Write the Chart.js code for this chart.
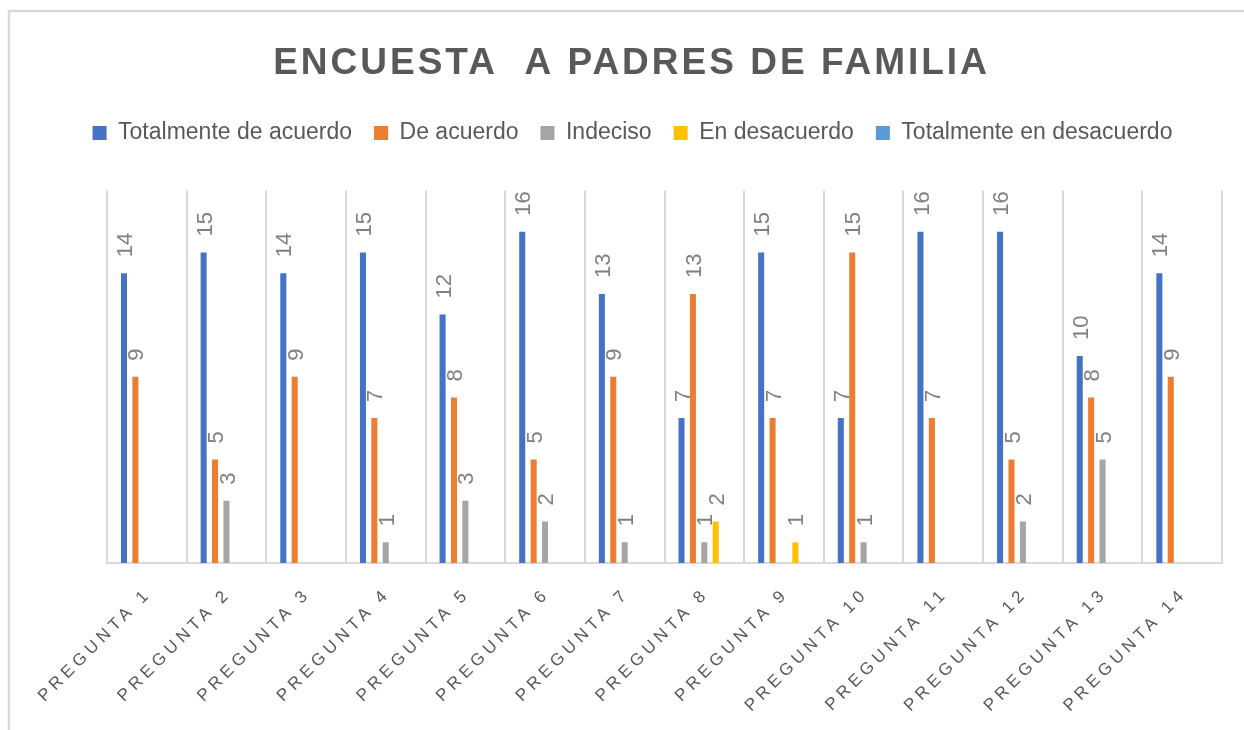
<!DOCTYPE html>
<html>
<head>
<meta charset="utf-8">
<script src="https://cdn.jsdelivr.net/npm/chart.js@4.4.0/dist/chart.umd.min.js"></script>
<style>
html, body { margin: 0; padding: 0; background: #ffffff; }
#wrap { position: relative; width: 1244px; height: 730px; }
</style>
</head>
<body>
<div id="wrap"><canvas id="c" width="1244" height="730"></canvas></div>
<script>
// ---- data ----
const categories = ['PREGUNTA 1','PREGUNTA 2','PREGUNTA 3','PREGUNTA 4','PREGUNTA 5','PREGUNTA 6','PREGUNTA 7',
  'PREGUNTA 8','PREGUNTA 9','PREGUNTA 10','PREGUNTA 11','PREGUNTA 12','PREGUNTA 13','PREGUNTA 14'];
const seriesNames = ['Totalmente de acuerdo','De acuerdo','Indeciso','En desacuerdo','Totalmente en desacuerdo'];
const totalmenteDeAcuerdo = [14,15,14,15,12,16,13,7,15,7,16,16,10,14];
const deAcuerdo = [9,5,9,7,8,5,9,13,7,15,7,5,8,9];
const indeciso = [null,3,null,1,3,2,1,1,null,1,null,2,5,null];
const enDesacuerdo = [null,null,null,null,null,null,null,2,1,null,null,null,null,null];
const totalmenteEnDesacuerdo = [null,null,null,null,null,null,null,null,null,null,null,null,null,null];
const titleText = 'ENCUESTA  A PADRES DE FAMILIA';
const yMin = 0;
const yMax = 18;

const seriesValues = [totalmenteDeAcuerdo, deAcuerdo, indeciso, enDesacuerdo, totalmenteEnDesacuerdo];
const seriesColors = ['#4472C4','#ED7D31','#A5A5A5','#FFC000','#5B9BD5'];

const LEGEND_GAP = 36;
const LEGEND_EXTRA = 80;
const HEADER_SHIFT_TITLE = -33;
const HEADER_SHIFT_LEGEND = -72;

const decorPlugin = {
  id: 'decor',
  afterInit(chart) {
    const lg = chart.legend;
    if (lg && !lg._wrapped) {
      const f = lg.fit;
      lg.fit = function () {
        const mw = this.maxWidth;
        this.maxWidth = mw + LEGEND_EXTRA;
        f.call(this);
        this.maxWidth = mw;
        this.width = Math.min(this.width, mw);
        if (this.height) this.height += LEGEND_GAP;
      };
      const d = lg.draw;
      lg.draw = function () {
        const ctx = this.ctx;
        const r = this.right;
        this.right = r + LEGEND_EXTRA;
        ctx.save();
        ctx.translate(HEADER_SHIFT_LEGEND, 0);
        d.call(this);
        ctx.restore();
        this.right = r;
      };
      lg._wrapped = true;
    }
    const tb = chart.titleBlock;
    if (tb && !tb._wrapped) {
      const d = tb.draw;
      tb.draw = function () {
        const ctx = this.ctx;
        ctx.save();
        ctx.translate(HEADER_SHIFT_TITLE, 0);
        ctx.letterSpacing = '3px';
        d.call(this);
        ctx.restore();
      };
      tb._wrapped = true;
    }
  },
  afterLayout(chart) {
    const sx = chart.scales.x;
    if (sx && !sx._lsWrapped) {
      const dl = sx.drawLabels;
      sx._computeLabelArea = function () { return undefined; };
      sx.drawLabels = function (area) {
        const ctx = this.ctx;
        ctx.save();
        ctx.letterSpacing = '4.5px';
        dl.call(this, area);
        ctx.restore();
      };
      sx._lsWrapped = true;
    }
  },
  beforeDraw(chart) {
    const ctx = chart.ctx;
    ctx.save();
    ctx.strokeStyle = '#d9d9d9';
    ctx.lineWidth = 2.5;
    ctx.beginPath();
    ctx.moveTo(9, 730);
    ctx.lineTo(9, 11);
    ctx.lineTo(1244, 11);
    ctx.stroke();
    ctx.restore();
  },
  afterDatasetsDraw(chart) {
    const ctx = chart.ctx;
    ctx.save();
    ctx.font = '22px "Liberation Sans", Arial, sans-serif';
    ctx.fillStyle = '#808080';
    ctx.textAlign = 'left';
    ctx.textBaseline = 'middle';
    chart.data.datasets.forEach((ds, di) => {
      const meta = chart.getDatasetMeta(di);
      meta.data.forEach((el, i) => {
        const v = ds.data[i];
        if (v === null || v === undefined) return;
        ctx.save();
        ctx.translate(el.x + 2, el.y - 16);
        ctx.rotate(-Math.PI / 2);
        ctx.fillText(String(v), 0, 0);
        ctx.restore();
      });
    });
    ctx.restore();
  }
};

new Chart(document.getElementById('c'), {
  type: 'bar',
  data: {
    labels: categories,
    datasets: seriesNames.map((name, k) => ({
      label: name,
      data: seriesValues[k],
      backgroundColor: seriesColors[k],
      borderWidth: 0,
      categoryPercentage: 0.716,
      barPercentage: 0.53
    }))
  },
  options: {
    responsive: false,
    animation: false,
    devicePixelRatio: 1,
    layout: { padding: { left: 107, right: 22, top: 0, bottom: 28 } },
    plugins: {
      title: {
        display: true,
        text: titleText,
        color: '#595959',
        font: { family: '"Liberation Sans", Arial, sans-serif', size: 37, weight: 'bold', lineHeight: 1.2 },
        padding: { top: 42, bottom: 13 }
      },
      legend: {
        display: true,
        position: 'top',
        labels: {
          color: '#595959',
          font: { family: '"Liberation Sans", Arial, sans-serif', size: 23 },
          boxWidth: 14,
          boxHeight: 14,
          padding: 22
        }
      },
      tooltip: { enabled: false }
    },
    scales: {
      x: {
        grid: { display: true, color: '#d9d9d9', lineWidth: 2, drawTicks: false, offset: true },
        border: { display: true, color: '#d9d9d9', width: 2 },
        ticks: {
          color: '#595959',
          font: { family: '"Liberation Sans", Arial, sans-serif', size: 17 },
          minRotation: 45,
          maxRotation: 45,
          autoSkip: false,
          padding: 21,
          labelOffset: 2
        }
      },
      y: {
        display: false,
        min: yMin,
        max: yMax
      }
    }
  },
  plugins: [decorPlugin]
});
</script>
</body>
</html>
